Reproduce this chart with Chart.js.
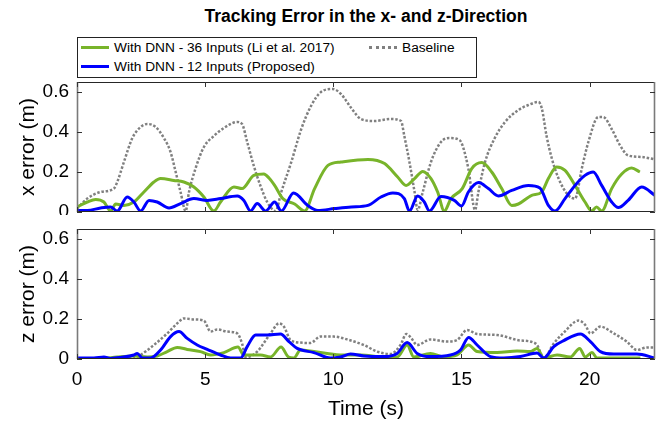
<!DOCTYPE html>
<html>
<head>
<meta charset="utf-8">
<script src="https://cdn.jsdelivr.net/npm/chart.js@4.4.0/dist/chart.umd.min.js"></script>
<style>
  body { margin: 0; background: #fff; }
  #wrap { position: relative; width: 670px; height: 427px; font-family: "Liberation Sans", Arial, sans-serif; }
  #title { position: absolute; left: 77px; width: 578px; top: 6px; text-align: center; font-weight: bold; font-size: 17.5px; color: #000; }
  #legend { position: absolute; left: 77px; top: 37px; width: 400px; height: 41px; box-sizing: border-box; border: 1px solid #222; background: #fff; z-index: 2; font-size: 13.7px; color: #000; }
  .item { position: absolute; white-space: nowrap; line-height: 16px; }
  .swatch { display: inline-block; width: 28px; height: 0; vertical-align: middle; margin-right: 5px; position: relative; top: -1px; }
  canvas { position: absolute; left: 0; }
</style>
</head>
<body>
<div id="wrap">
  <div id="title">Tracking Error in the x- and z-Direction</div>
  <div id="legend">
    <div class="item" style="left:3px; top:2px;"><span class="swatch" style="border-top:3px solid #78b42a"></span>With DNN - 36 Inputs (Li et al. 2017)</div>
    <div class="item" style="left:291px; top:2px;"><span class="swatch" style="border-top:3px dotted #808080"></span>Baseline</div>
    <div class="item" style="left:3px; top:21px;"><span class="swatch" style="border-top:3px solid #0000ff"></span>With DNN - 12 Inputs (Proposed)</div>
  </div>
  <canvas id="xChart" width="670" height="215" style="top:0"></canvas>
  <canvas id="zChart" width="670" height="212" style="top:215px"></canvas>
</div>
<script>
// tick positions and axis limits
const timeTicks = [0, 5, 10, 15, 20];
const errTicks = [0, 0.2, 0.4, 0.6];
const timeMax = 22.55;
const errMax = 0.65;

// x-direction error, [time (s), error (m)]
const xBaseline = [[0,0.017],[0.4,0.067],[0.92,0.10],[1.44,0.117],[1.57,0.15],[1.83,0.25],[2.16,0.37],[2.48,0.425],[2.74,0.44],[3.07,0.425],[3.39,0.37],[3.65,0.30],[3.85,0.20],[4.04,0.10],[4.24,0.005],[4.37,0.10],[4.63,0.22],[4.95,0.325],[5.34,0.38],[5.73,0.42],[6.25,0.45],[6.44,0.44],[6.64,0.35],[6.9,0.23],[7.16,0.13],[7.42,0.05],[7.75,0.005],[7.97,0.10],[8.36,0.25],[8.75,0.415],[9.13,0.53],[9.52,0.60],[9.98,0.615],[10.3,0.59],[10.7,0.52],[11.08,0.465],[11.6,0.455],[12.25,0.465],[12.64,0.455],[12.77,0.38],[12.97,0.25],[13.17,0.10],[13.29,0.01],[13.49,0.10],[13.81,0.25],[14.2,0.35],[14.53,0.37],[14.92,0.36],[15.05,0.33],[15.27,0.215],[15.53,0.01],[15.66,0.10],[15.92,0.25],[16.3,0.37],[16.7,0.45],[17.22,0.51],[17.61,0.535],[18.0,0.55],[18.13,0.52],[18.32,0.38],[18.52,0.27],[18.78,0.17],[19.17,0.083],[19.43,0.067],[19.69,0.215],[19.95,0.35],[20.34,0.475],[20.53,0.475],[20.86,0.415],[21.18,0.335],[21.5,0.283],[22.03,0.275],[22.55,0.263]];
const xDnn36 = [[0,0.025],[0.4,0.05],[0.73,0.063],[1.05,0.05],[1.31,0.005],[1.51,0.04],[1.83,0.033],[2.22,0.05],[2.61,0.10],[3.0,0.15],[3.26,0.167],[3.78,0.158],[4.17,0.15],[4.56,0.125],[4.95,0.075],[5.34,0.005],[5.6,0.05],[6.12,0.125],[6.44,0.117],[6.9,0.183],[7.29,0.19],[7.49,0.17],[7.71,0.133],[8.03,0.067],[8.49,0.04],[8.88,0.005],[9.27,0.117],[9.79,0.233],[10.3,0.25],[11.35,0.263],[12.0,0.242],[12.51,0.175],[12.84,0.133],[13.17,0.167],[13.49,0.203],[13.81,0.167],[14.07,0.10],[14.33,0.005],[14.59,0.067],[15.03,0.117],[15.4,0.217],[15.79,0.247],[16.18,0.20],[16.57,0.117],[16.96,0.033],[17.22,0.04],[17.74,0.083],[18.13,0.10],[18.39,0.167],[18.71,0.225],[19.04,0.208],[19.43,0.133],[19.82,0.05],[20.08,0.005],[20.27,0.025],[20.47,0.005],[20.86,0.117],[21.25,0.19],[21.64,0.22],[21.96,0.20]];
const xDnn12 = [[0,0.008],[0.4,0.008],[0.92,0.02],[1.31,0.025],[1.57,0.005],[1.96,0.075],[2.22,0.05],[2.48,0.005],[2.81,0.058],[3.13,0.05],[3.59,0.02],[4.04,0.042],[4.56,0.067],[5.08,0.058],[5.6,0.067],[6.25,0.08],[6.51,0.058],[6.77,0.005],[7.03,0.042],[7.36,0.005],[7.71,0.05],[7.97,0.005],[8.45,0.095],[9.0,0.033],[9.4,0.008],[10.05,0.017],[10.7,0.025],[11.35,0.033],[11.86,0.075],[12.32,0.095],[12.77,0.067],[12.97,0.005],[13.29,0.08],[13.55,0.05],[13.75,0.005],[14.2,0.077],[14.72,0.058],[15.0,0.03],[15.27,0.10],[15.66,0.147],[16.05,0.117],[16.44,0.08],[16.96,0.108],[17.61,0.133],[18.06,0.12],[18.39,0.033],[18.65,0.005],[19.04,0.067],[19.43,0.133],[19.82,0.183],[20.14,0.20],[20.47,0.133],[20.86,0.05],[21.12,0.022],[21.5,0.058],[22.03,0.125],[22.55,0.083]];

// z-direction error, [time (s), error (m)]
const zBaseline = [[0,0],[2.2,0.003],[2.48,0.02],[3.0,0.07],[3.52,0.128],[3.91,0.178],[4.17,0.203],[4.56,0.198],[4.95,0.192],[5.21,0.137],[5.47,0.148],[5.86,0.137],[6.25,0.128],[6.44,0.078],[6.58,0.008],[7.03,0.037],[7.55,0.128],[7.88,0.178],[8.07,0.162],[8.33,0.095],[8.72,0.082],[9.11,0.08],[9.5,0.112],[10.02,0.112],[10.54,0.098],[11.19,0.07],[11.71,0.037],[12.23,0.025],[12.62,0.07],[12.85,0.125],[13.01,0.11],[13.27,0.07],[13.79,0.098],[14.44,0.087],[14.83,0.095],[15.22,0.145],[15.61,0.125],[16.39,0.12],[17.17,0.095],[17.82,0.082],[17.95,0.07],[18.21,0.005],[18.6,0.078],[18.99,0.132],[19.57,0.192],[19.83,0.17],[20.03,0.128],[20.42,0.162],[20.94,0.128],[21.45,0.087],[21.84,0.045],[22.23,0.058],[22.55,0.058]];
const zDnn36 = [[0,0],[1.0,0.003],[1.57,0.01],[2.22,0.015],[2.74,0.01],[3.13,0.015],[3.52,0.037],[3.91,0.058],[4.3,0.048],[4.82,0.037],[5.21,0.02],[5.73,0.032],[6.28,0.06],[6.51,0.02],[6.77,0.02],[7.16,0.02],[7.55,0.01],[7.96,0.06],[8.25,0.01],[8.46,0.005],[8.72,0.045],[9.24,0.037],[9.76,0.028],[10.28,0.02],[11.06,0.02],[11.97,0.01],[12.49,0.01],[12.88,0.07],[13.14,0.01],[13.79,0.028],[14.31,0.01],[14.83,0.02],[15.28,0.07],[15.61,0.037],[16.39,0.032],[17.17,0.04],[17.69,0.037],[17.95,0.053],[18.21,0.005],[18.73,0.02],[19.25,0.01],[19.61,0.053],[19.83,0.01],[20.09,0.032],[20.29,0.005],[21.07,0.005],[21.98,0.005]];
const zDnn12 = [[0,0.005],[0.66,0.005],[1.05,0.01],[1.31,0.003],[1.7,0.008],[2.22,0.02],[2.35,0.028],[2.55,0.005],[2.87,0.005],[3.26,0.045],[3.65,0.112],[3.98,0.137],[4.3,0.103],[4.69,0.07],[5.08,0.048],[5.6,0.02],[5.99,0.005],[6.38,0.005],[6.64,0.062],[6.97,0.12],[7.42,0.12],[7.94,0.125],[8.27,0.087],[8.59,0.053],[9.24,0.032],[9.89,0.005],[10.28,0.01],[10.67,0.025],[11.19,0.015],[11.97,0.012],[12.49,0.028],[12.88,0.082],[13.27,0.028],[13.79,0.012],[14.57,0.02],[14.96,0.045],[15.28,0.108],[15.61,0.07],[16.13,0.012],[16.65,0.005],[17.3,0.012],[17.95,0.03],[18.21,0.005],[18.6,0.062],[18.99,0.092],[19.64,0.125],[20.03,0.087],[20.42,0.037],[20.94,0.025],[21.84,0.025],[22.55,0.005]];

const GREEN = "#78b42a";
const BLUE = "#0000ff";
const GRAY = "#808080";

Chart.defaults.font.family = '"Liberation Sans", Arial, sans-serif';
Chart.defaults.color = "#000";

function toPoints(arr) {
  return arr.map(p => ({ x: p[0], y: p[1] }));
}

// box around the plot area with inward tick marks on all four sides
const boxTicks = {
  id: "boxTicks",
  afterDraw(chart) {
    const { ctx, chartArea: a, scales } = chart;
    const L = a.left, R = a.right, T = a.top, B = a.bottom;
    ctx.save();
    ctx.strokeStyle = "#262626";
    ctx.lineWidth = 1;
    ctx.beginPath();
    ctx.moveTo(L, T + 0.5); ctx.lineTo(R, T + 0.5);
    ctx.moveTo(L, B - 0.5); ctx.lineTo(R, B - 0.5);
    ctx.stroke();
    ctx.strokeStyle = "#7a7a7a";
    ctx.lineWidth = 1.6;
    ctx.beginPath();
    ctx.moveTo(L + 0.5, T); ctx.lineTo(L + 0.5, B);
    ctx.moveTo(R - 0.5, T); ctx.lineTo(R - 0.5, B);
    ctx.stroke();
    ctx.strokeStyle = "#333";
    ctx.lineWidth = 1;
    ctx.beginPath();
    scales.x.ticks.forEach(t => {
      const px = Math.round(scales.x.getPixelForValue(t.value)) + 0.5;
      ctx.moveTo(px, B); ctx.lineTo(px, B - 5);
      ctx.moveTo(px, T); ctx.lineTo(px, T + 5);
    });
    scales.y.ticks.forEach(t => {
      const py = Math.round(scales.y.getPixelForValue(t.value)) + 0.5;
      ctx.moveTo(L, py); ctx.lineTo(L + 5, py);
      ctx.moveTo(R, py); ctx.lineTo(R - 5, py);
    });
    ctx.stroke();
    ctx.restore();
  }
};

// fixed axis sizes so both plot areas line up
function fixX(h) {
  return s => { s.height = h; s.paddingLeft = 0; s.paddingRight = 0; };
}
function fixY(s) {
  s.width = 77;
  s.paddingTop = 0;
  s.paddingBottom = 0;
}

function makeChart(canvas, series, yTitle, showTime, padTop, xHeight) {
  const line = (data, color, order, dash) => ({
    data: toPoints(data),
    borderColor: color,
    borderWidth: dash ? 2.5 : 3,
    borderDash: dash || [],
    borderCapStyle: "butt",
    pointRadius: 0,
    cubicInterpolationMode: "monotone",
    fill: false,
    order: order
  });
  return new Chart(canvas, {
    type: "line",
    data: {
      datasets: [
        line(series[0], BLUE, 0),
        line(series[1], GREEN, 1),
        line(series[2], GRAY, 2, [2.5, 1.8])
      ]
    },
    options: {
      responsive: false,
      animation: false,
      layout: { padding: { top: padTop, right: 15, bottom: 0, left: 0 } },
      plugins: { legend: { display: false }, tooltip: { enabled: false }, title: { display: false } },
      scales: {
        x: {
          type: "linear",
          min: 0,
          max: timeMax,
          grid: { display: false, drawTicks: false },
          border: { display: false },
          afterBuildTicks: s => { s.ticks = timeTicks.map(v => ({ value: v })); },
          afterFit: fixX(xHeight),
          ticks: { display: showTime, padding: 9, font: { size: 19 }, maxRotation: 0 },
          title: { display: showTime, text: "Time (s)", font: { size: 21 }, padding: { top: 0, bottom: 5 } }
        },
        y: {
          min: 0,
          max: errMax,
          grid: { display: false, drawTicks: false },
          border: { display: false },
          afterBuildTicks: s => { s.ticks = errTicks.map(v => ({ value: v })); },
          afterFit: fixY,
          ticks: { padding: 8, font: { size: 19 }, callback: v => String(v) },
          title: { display: true, text: yTitle, font: { size: 21 }, padding: { top: 16, bottom: 0 } }
        }
      }
    },
    plugins: [boxTicks]
  });
}

makeChart(document.getElementById("xChart"), [xDnn12, xDnn36, xBaseline], "x error (m)", false, 82, 3);
makeChart(document.getElementById("zChart"), [zDnn12, zDnn36, zBaseline], "z error (m)", true, 14, 68);
</script>
</body>
</html>
